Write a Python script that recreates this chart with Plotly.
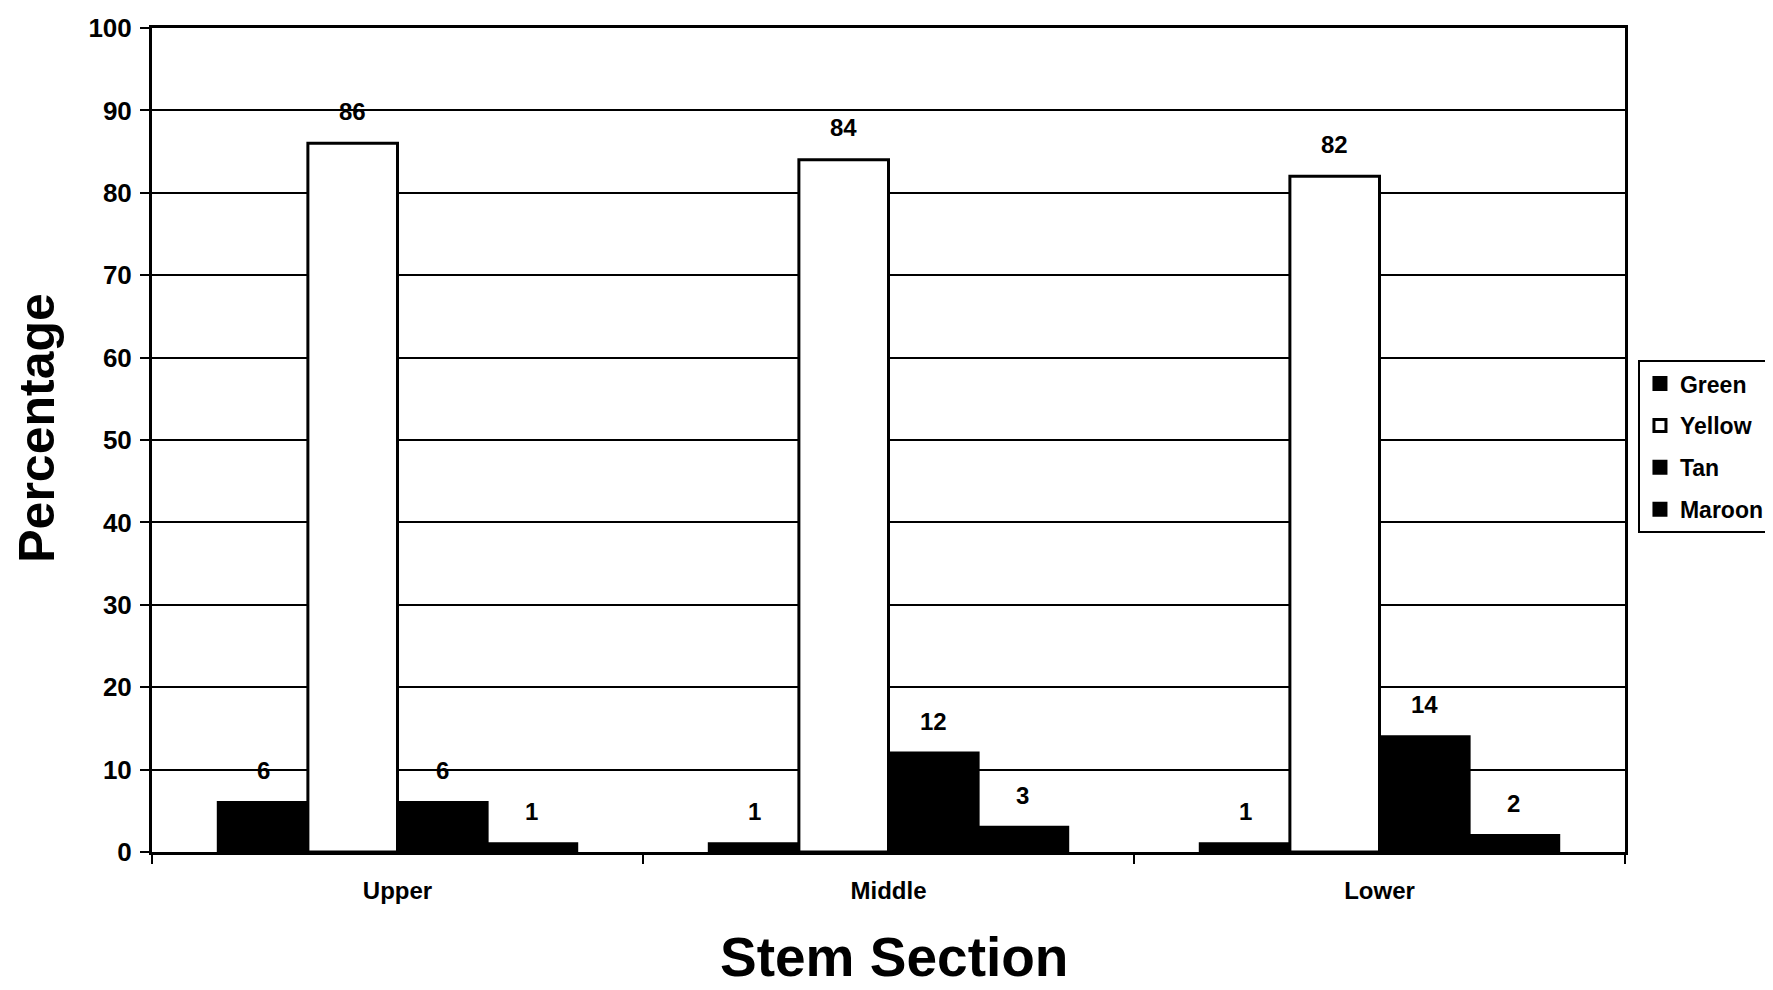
import plotly.graph_objects as go

categories = ["Upper", "Middle", "Lower"]
series_names = ["Green", "Yellow", "Tan", "Maroon"]
green = [6, 1, 1]
yellow = [86, 84, 82]
tan = [6, 12, 14]
maroon = [1, 3, 2]
values = [green, yellow, tan, maroon]
fills = ["black", "white", "black", "black"]
y_ticks = [0, 10, 20, 30, 40, 50, 60, 70, 80, 90, 100]

FONT = "Liberation Sans, Arial, sans-serif"
# page body has an 8px margin, so the figure is sized to fit the window
W, H = 1765, 982
ML, MR, MT, MB = 144, 148, 20, 138
BARGAP = 0.27

fig = go.Figure()
for name, vals, fc in zip(series_names, values, fills):
    fig.add_trace(go.Bar(
        name=name, x=categories, y=vals,
        marker=dict(color=fc, line=dict(color="black", width=3)),
        legendgroup=name,
    ))

# data labels placed above each bar
plot_w = W - ML - MR
cat_w = plot_w / len(categories)
bar_w = (1 - BARGAP) / len(series_names) * cat_w
for i, vals in enumerate(values):
    for c, v in zip(categories, vals):
        fig.add_annotation(
            x=c, y=v, xref="x", yref="y", text=str(v), showarrow=False,
            xshift=(i - (len(series_names) - 1) / 2) * bar_w, yshift=32,
            yanchor="middle",
            font=dict(family=FONT, size=24, color="black", weight="bold"),
        )

fig.add_annotation(
    text="Percentage", xref="paper", yref="paper", x=-0.078, y=0.515,
    textangle=-90, showarrow=False, xanchor="center", yanchor="middle",
    font=dict(family=FONT, size=50, color="black", weight="bold"),
)
fig.add_annotation(
    text="Stem Section", xref="paper", yref="paper", x=0.504, y=-0.128,
    showarrow=False, xanchor="center", yanchor="middle",
    font=dict(family=FONT, size=55, color="black", weight="bold"),
)

fig.update_layout(
    width=W, height=H,
    margin=dict(l=ML, r=MR, t=MT, b=MB, autoexpand=False),
    paper_bgcolor="white", plot_bgcolor="white",
    barmode="group", bargap=BARGAP, bargroupgap=0,
    font=dict(family=FONT, color="black"),
    showlegend=True,
    legend=dict(x=1.0088, y=0.597, xanchor="left", yanchor="top",
                bordercolor="black", borderwidth=2, bgcolor="white",
                font=dict(family=FONT, size=23, color="black", weight="bold"),
                tracegroupgap=9, traceorder="grouped", itemwidth=30),
    xaxis=dict(
        automargin=False,
        tickfont=dict(family=FONT, size=24, color="black", weight="bold"),
        showline=True, linecolor="black", linewidth=3, mirror=True,
        ticks="outside", tickson="boundaries", ticklen=9, tickwidth=2, tickcolor="black",
        ticklabelstandoff=15,
        showgrid=False,
    ),
    yaxis=dict(
        automargin=False,
        range=[0, 100], tickvals=y_ticks,
        tickfont=dict(family=FONT, size=26, color="black", weight="bold"),
        showline=True, linecolor="black", linewidth=3, mirror=True,
        ticks="outside", ticklen=9, tickwidth=2, tickcolor="black",
        ticklabelstandoff=3,
        showgrid=True, gridcolor="black", gridwidth=2,
        zeroline=False,
    ),
)

fig.write_html("out.html")
